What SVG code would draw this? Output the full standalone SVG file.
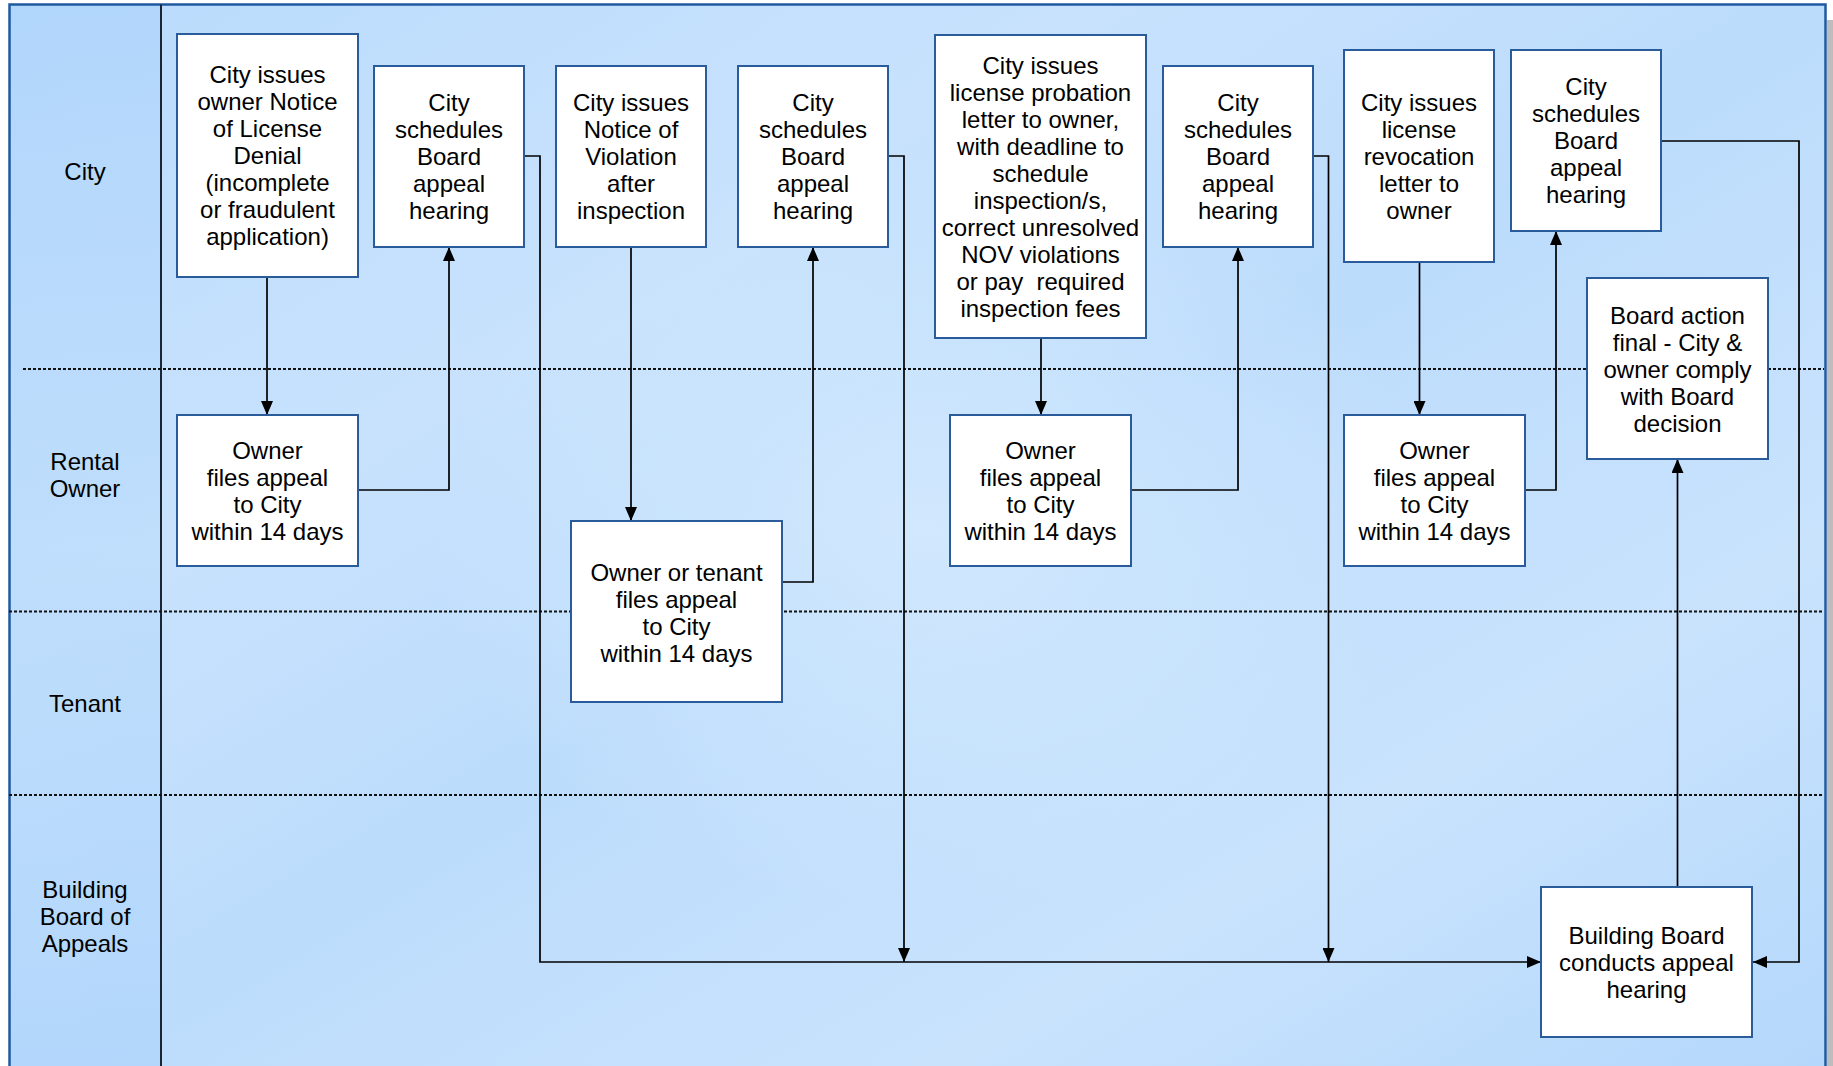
<svg xmlns="http://www.w3.org/2000/svg" width="1833" height="1066" viewBox="0 0 1833 1066">
  <defs>
    <linearGradient id="bg" x1="0" y1="0" x2="1" y2="1">
      <stop offset="0" stop-color="#B9DBFC"/>
      <stop offset="0.3" stop-color="#C8E2FD"/>
      <stop offset="0.5" stop-color="#BCDCFC"/>
      <stop offset="0.75" stop-color="#C9E3FD"/>
      <stop offset="1" stop-color="#B3D7FB"/>
    </linearGradient>
    <radialGradient id="glow" cx="0.5" cy="0.5" r="0.5">
      <stop offset="0" stop-color="#D6EBFE" stop-opacity="0.8"/>
      <stop offset="1" stop-color="#D6EBFE" stop-opacity="0"/>
    </radialGradient>
    <linearGradient id="hdr" x1="0" y1="0" x2="0" y2="1">
      <stop offset="0" stop-color="#AED4FB"/>
      <stop offset="0.5" stop-color="#BCDCFC"/>
      <stop offset="1" stop-color="#AED4FB"/>
    </linearGradient>
    <marker id="arr" viewBox="0 0 14 12" refX="14" refY="6" markerWidth="14" markerHeight="12" markerUnits="userSpaceOnUse" orient="auto">
      <path d="M0,0 L14,6 L0,12 Z" fill="#000"/>
    </marker>
  </defs>
  <style>
    .box { fill: #FFFFFF; stroke: #2A5C9C; stroke-width: 2; }
    .t { font-family: "Liberation Sans", Arial, sans-serif; font-size: 24px; fill: #000; text-anchor: middle; }
    .lane { stroke: #111; stroke-width: 1.8; stroke-dasharray: 3 2; fill: none; }
    .conn { stroke: #000; stroke-width: 1.7; fill: none; marker-end: url(#arr); }
  </style>

  <rect x="0" y="0" width="1833" height="1066" fill="#FFFFFF"/>
  <rect x="1827" y="20" width="6" height="1046" fill="#BDBDBD"/>

  <g id="pool">
    <rect x="9.5" y="4.5" width="1816" height="1080" fill="url(#bg)"/>
    <ellipse cx="930" cy="530" rx="500" ry="380" fill="url(#glow)"/>
    <rect x="9.5" y="4.5" width="151" height="1080" fill="url(#hdr)" opacity="0.7"/>
    <rect x="9.5" y="4.5" width="1816" height="1080" fill="none" stroke="#1F5AA0" stroke-width="2.5"/>
    <line x1="161" y1="4.5" x2="161" y2="1066" stroke="#1A2636" stroke-width="2"/>
    <line class="lane" x1="23" y1="369" x2="1824" y2="369"/>
    <line class="lane" x1="9" y1="611.5" x2="1824" y2="611.5"/>
    <line class="lane" x1="9" y1="795" x2="1824" y2="795"/>
  </g>

  <g id="lane-labels">
    <text class="t" x="85" y="180">City</text>
    <text class="t" x="85" y="470"><tspan x="85">Rental</tspan><tspan x="85" dy="27">Owner</tspan></text>
    <text class="t" x="85" y="711.5">Tenant</text>
    <text class="t" x="85" y="898"><tspan x="85">Building</tspan><tspan x="85" dy="27">Board of</tspan><tspan x="85" dy="27">Appeals</tspan></text>
  </g>

  <g id="connectors">
    <polyline class="conn" points="267,277 267,415"/>
    <polyline class="conn" points="358,490 449,490 449,247"/>
    <polyline class="conn" points="524,156 540,156 540,962 1541,962"/>
    <polyline class="conn" points="631,247 631,521"/>
    <polyline class="conn" points="782,582 813,582 813,247"/>
    <polyline class="conn" points="888,156 904,156 904,962"/>
    <polyline class="conn" points="1041,338 1041,415"/>
    <polyline class="conn" points="1131,490 1238,490 1238,247"/>
    <polyline class="conn" points="1313,156 1328.5,156 1328.5,962"/>
    <polyline class="conn" points="1419.5,262 1419.5,415"/>
    <polyline class="conn" points="1525,490 1556,490 1556,231"/>
    <polyline class="conn" points="1661,141 1799,141 1799,962 1753,962"/>
    <polyline class="conn" points="1677.5,887 1677.5,459"/>
  </g>

  <g id="node-denial">
    <rect class="box" x="177" y="34" width="181" height="243"/>
    <text class="t" y="83"><tspan x="267.5">City issues</tspan><tspan x="267.5" dy="27">owner Notice</tspan><tspan x="267.5" dy="27">of License</tspan><tspan x="267.5" dy="27">Denial</tspan><tspan x="267.5" dy="27">(incomplete</tspan><tspan x="267.5" dy="27">or fraudulent</tspan><tspan x="267.5" dy="27">application)</tspan></text>
  </g>
  <g id="node-schedule1">
    <rect class="box" x="374" y="66" width="150" height="181"/>
    <text class="t" y="110.5"><tspan x="449">City</tspan><tspan x="449" dy="27">schedules</tspan><tspan x="449" dy="27">Board</tspan><tspan x="449" dy="27">appeal</tspan><tspan x="449" dy="27">hearing</tspan></text>
  </g>
  <g id="node-nov">
    <rect class="box" x="556" y="66" width="150" height="181"/>
    <text class="t" y="110.5"><tspan x="631">City issues</tspan><tspan x="631" dy="27">Notice of</tspan><tspan x="631" dy="27">Violation</tspan><tspan x="631" dy="27">after</tspan><tspan x="631" dy="27">inspection</tspan></text>
  </g>
  <g id="node-schedule2">
    <rect class="box" x="738" y="66" width="150" height="181"/>
    <text class="t" y="110.5"><tspan x="813">City</tspan><tspan x="813" dy="27">schedules</tspan><tspan x="813" dy="27">Board</tspan><tspan x="813" dy="27">appeal</tspan><tspan x="813" dy="27">hearing</tspan></text>
  </g>
  <g id="node-probation">
    <rect class="box" x="935" y="35" width="211" height="303"/>
    <text class="t" y="74"><tspan x="1040.5">City issues</tspan><tspan x="1040.5" dy="27">license probation</tspan><tspan x="1040.5" dy="27">letter to owner,</tspan><tspan x="1040.5" dy="27">with deadline to</tspan><tspan x="1040.5" dy="27">schedule</tspan><tspan x="1040.5" dy="27">inspection/s,</tspan><tspan x="1040.5" dy="27">correct unresolved</tspan><tspan x="1040.5" dy="27">NOV violations</tspan><tspan x="1040.5" dy="27" xml:space="preserve">or pay  required</tspan><tspan x="1040.5" dy="27">inspection fees</tspan></text>
  </g>
  <g id="node-schedule3">
    <rect class="box" x="1163" y="66" width="150" height="181"/>
    <text class="t" y="110.5"><tspan x="1238">City</tspan><tspan x="1238" dy="27">schedules</tspan><tspan x="1238" dy="27">Board</tspan><tspan x="1238" dy="27">appeal</tspan><tspan x="1238" dy="27">hearing</tspan></text>
  </g>
  <g id="node-revocation">
    <rect class="box" x="1344" y="50" width="150" height="212"/>
    <text class="t" y="110.5"><tspan x="1419">City issues</tspan><tspan x="1419" dy="27">license</tspan><tspan x="1419" dy="27">revocation</tspan><tspan x="1419" dy="27">letter to</tspan><tspan x="1419" dy="27">owner</tspan></text>
  </g>
  <g id="node-schedule4">
    <rect class="box" x="1511" y="50" width="150" height="181"/>
    <text class="t" y="95"><tspan x="1586">City</tspan><tspan x="1586" dy="27">schedules</tspan><tspan x="1586" dy="27">Board</tspan><tspan x="1586" dy="27">appeal</tspan><tspan x="1586" dy="27">hearing</tspan></text>
  </g>
  <g id="node-final">
    <rect class="box" x="1587" y="278" width="181" height="181"/>
    <text class="t" y="324"><tspan x="1677.5">Board action</tspan><tspan x="1677.5" dy="27">final - City &amp;</tspan><tspan x="1677.5" dy="27">owner comply</tspan><tspan x="1677.5" dy="27">with Board</tspan><tspan x="1677.5" dy="27">decision</tspan></text>
  </g>
  <g id="node-appeal1">
    <rect class="box" x="177" y="415" width="181" height="151"/>
    <text class="t" y="459"><tspan x="267.5">Owner</tspan><tspan x="267.5" dy="27">files appeal</tspan><tspan x="267.5" dy="27">to City</tspan><tspan x="267.5" dy="27">within 14 days</tspan></text>
  </g>
  <g id="node-appeal2">
    <rect class="box" x="571" y="521" width="211" height="181"/>
    <text class="t" y="580.5"><tspan x="676.5">Owner or tenant</tspan><tspan x="676.5" dy="27">files appeal</tspan><tspan x="676.5" dy="27">to City</tspan><tspan x="676.5" dy="27">within 14 days</tspan></text>
  </g>
  <g id="node-appeal3">
    <rect class="box" x="950" y="415" width="181" height="151"/>
    <text class="t" y="459"><tspan x="1040.5">Owner</tspan><tspan x="1040.5" dy="27">files appeal</tspan><tspan x="1040.5" dy="27">to City</tspan><tspan x="1040.5" dy="27">within 14 days</tspan></text>
  </g>
  <g id="node-appeal4">
    <rect class="box" x="1344" y="415" width="181" height="151"/>
    <text class="t" y="459"><tspan x="1434.5">Owner</tspan><tspan x="1434.5" dy="27">files appeal</tspan><tspan x="1434.5" dy="27">to City</tspan><tspan x="1434.5" dy="27">within 14 days</tspan></text>
  </g>
  <g id="node-hearing">
    <rect class="box" x="1541" y="887" width="211" height="150"/>
    <text class="t" y="944"><tspan x="1646.5">Building Board</tspan><tspan x="1646.5" dy="27">conducts appeal</tspan><tspan x="1646.5" dy="27">hearing</tspan></text>
  </g>
</svg>
